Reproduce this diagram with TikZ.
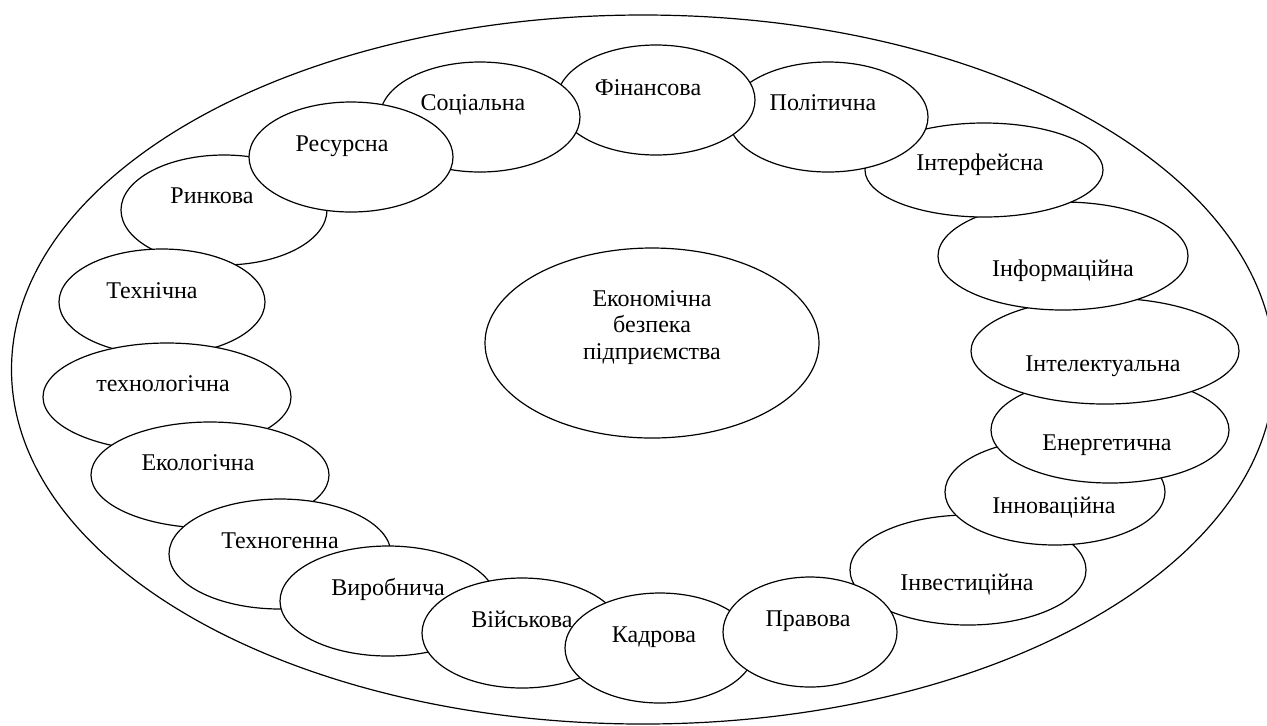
\documentclass[tikz,border=0pt]{standalone}
\usepackage{fontspec}
\setmainfont{Liberation Serif}
\newfontfamily\spherefont{Liberation Serif}
\usepackage{tikz}
\usetikzlibrary{shapes.geometric}
\tikzstyle{Sphere}=[ellipse,draw=black,fill=white,line width=0.6pt,inner sep=0pt]
\tikzstyle{SphereText}=[inner sep=0pt,text height=8pt,text depth=0pt,
font=\spherefont\fontsize{12pt}{13.3pt}\selectfont]

\begin{document}
\begin{tikzpicture}[x=0.5pt,y=-0.5pt]
        \useasboundingbox (0,0) rectangle (1267,725);
        \node[Sphere,minimum width=631.5pt,minimum height=354.5pt](frame)at(643,369.5){};
        % right side, from the bottom up
        \node[Sphere,minimum width=118pt,minimum height=55pt](inv)at(968,570){};
        \node[Sphere,minimum width=110pt,minimum height=53pt](inn)at(1055,492){};
        \node[Sphere,minimum width=119pt,minimum height=53pt](ene)at(1110,430){};
        \node[Sphere,minimum width=134pt,minimum height=53pt](int)at(1105,351){};
        \node[Sphere,minimum width=125pt,minimum height=54pt](inf)at(1063,256){};
        \node[Sphere,minimum width=119pt,minimum height=47pt](ifc)at(984,170){};
        \node[Sphere,minimum width=100pt,minimum height=55pt](pol)at(828,117){};
        \node[Sphere,minimum width=99pt,minimum height=55pt](fin)at(656,100){};
        \node[Sphere,minimum width=100pt,minimum height=55pt](soc)at(480,117){};
        % left side, from the top down
        \node[Sphere,minimum width=103pt,minimum height=55pt](rin)at(224,210){};
        \node[Sphere,minimum width=102pt,minimum height=55pt](res)at(351,157){};
        \node[Sphere,minimum width=103pt,minimum height=53pt](teh)at(162,302){};
        \node[Sphere,minimum width=124pt,minimum height=54pt](tlg)at(167,397){};
        \node[Sphere,minimum width=119pt,minimum height=53pt](eko)at(210,475){};
        \node[Sphere,minimum width=111pt,minimum height=55pt](tgn)at(280,554){};
        \node[Sphere,minimum width=108pt,minimum height=55pt](vir)at(388,601){};
        \node[Sphere,minimum width=100pt,minimum height=55pt](vij)at(522,633){};
        \node[Sphere,minimum width=95pt,minimum height=55pt](kad)at(660,648){};
        \node[Sphere,minimum width=87pt,minimum height=55pt](prv)at(810,632){};
        % centre
        \node[Sphere,minimum width=167pt,minimum height=95pt](eb)at(652,343){};
        % labels
        \node[SphereText](invT)at(967,582){Інвестиційна};
        \node[SphereText](innT)at(1054,505){Інноваційна};
        \node[SphereText](eneT)at(1107,442){Енергетична};
        \node[SphereText](intT)at(1103,363){Інтелектуальна};
        \node[SphereText](infT)at(1063,268){Інформаційна};
        \node[SphereText](ifcT)at(980,162){Інтерфейсна};
        \node[SphereText](polT)at(823,102){Політична};
        \node[SphereText](finT)at(648,87){Фінансова};
        \node[SphereText](socT)at(473,102){Соціальна};
        \node[SphereText](rinT)at(212,195){Ринкова};
        \node[SphereText](resT)at(342,143){Ресурсна};
        \node[SphereText](tehT)at(152,290){Технічна};
        \node[SphereText](tlgT)at(163,383){технологічна};
        \node[SphereText](ekoT)at(198,462){Екологічна};
        \node[SphereText](tgnT)at(280,540){Техногенна};
        \node[SphereText](virT)at(388,587){Виробнича};
        \node[SphereText](vijT)at(522,619){Військова};
        \node[SphereText](kadT)at(654,634){Кадрова};
        \node[SphereText](prvT)at(808,618){Правова};
        \node[SphereText,align=center,text height=,anchor=north](ebT)at(652,290){Економічна\\безпека\\підприємства};
    \end{tikzpicture}
\end{document}
